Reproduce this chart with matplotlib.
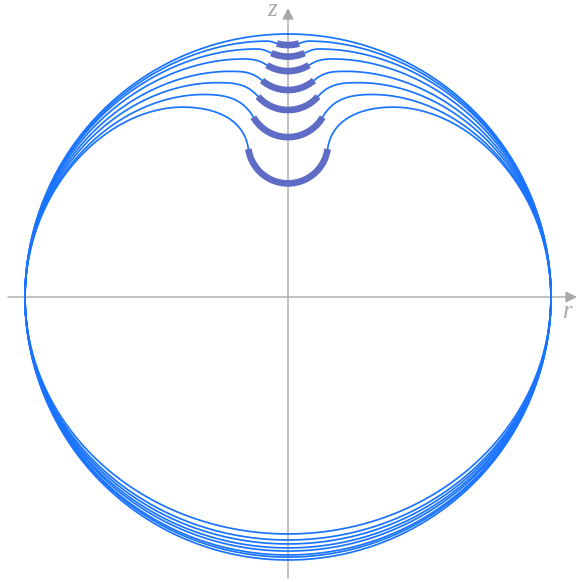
import numpy as np
import matplotlib
matplotlib.use('Agg')
import matplotlib.pyplot as plt

# ---- data (sphere radius = 1) ----
particle_radius = 0.152
wrap_angle_deg = [16, 24.4, 31.7, 40.5, 48.6, 60, 82]          # half-angle of bound arc
arc_bottom_z = [0.958, 0.914, 0.859, 0.787, 0.711, 0.608, 0.432]  # lowest point of bound arc
rim_r = [0.08, 0.12, 0.17, 0.22, 0.27, 0.32, 0.40]             # rim position (r)
rim_z = [0.973, 0.943, 0.905, 0.858, 0.815, 0.770, 0.722]      # rim height (z)
height_ratio = [0.989, 0.981, 0.966, 0.954, 0.939, 0.924, 0.901]  # vertical semi-axis

FREE_COLOR = '#1a74ff'
BOUND_COLOR = '#5f6cc6'
AXIS_COLOR = '#a8a8a8'


def bezier(B0, B1, B2, B3, n=80):
    t = np.linspace(0, 1, n)[:, None]
    return (1 - t) ** 3 * B0 + 3 * (1 - t) ** 2 * t * B1 + 3 * (1 - t) * t ** 2 * B2 + t ** 3 * B3


def shape(theta, zc, xr, zr, e):
    rho = particle_radius
    P = np.array([rho * np.sin(theta), zc - rho * np.cos(theta)])
    tP = np.array([np.cos(theta), np.sin(theta)])
    R = np.array([xr, zr])
    L = np.linalg.norm(R - P)
    neck = bezier(P, P + 0.4 * L * tP, R - 0.4 * L * np.array([1.0, 0.0]), R)
    Zr = zr / e
    rR = np.hypot(xr, Zr)
    phiR = np.arctan2(xr, Zr)
    D = 1 - rR
    S = rR * np.tan(phiR)
    k = S / D
    phi = np.linspace(phiR, np.pi / 2, 300)
    u = phi - phiR
    Lp = np.pi / 2 - phiR
    delta = D * np.exp(-k * u) * (1 - (u / Lp) ** 2)
    r = 1 - delta
    upper = np.column_stack([r * np.sin(phi), e * r * np.cos(phi)])
    phi2 = np.linspace(np.pi / 2, np.pi, 300)
    lower = np.column_stack([np.sin(phi2), e * np.cos(phi2)])
    right = np.vstack([neck, upper[1:], lower[1:]])
    left = right[::-1] * np.array([-1, 1])
    full = np.vstack([right, left[1:]])
    a = np.linspace(-theta, theta, 100)
    arc = np.column_stack([rho * np.sin(a), zc - rho * np.cos(a)])
    return full, arc


fig = plt.figure(figsize=(5.79, 5.82), dpi=100)
ax = fig.add_axes([0, 0, 1, 1])
ax.set_xlim(-288 / 263, 291 / 263)
ax.set_ylim(-285 / 263, 297 / 263)
ax.axis('off')

# axes with arrows
ax.annotate('', xy=(289 / 263, 0), xytext=(-280 / 263, 0),
            arrowprops=dict(arrowstyle='-|>', color=AXIS_COLOR, lw=1.0,
                            mutation_scale=17, shrinkA=0, shrinkB=0))
ax.annotate('', xy=(0, 289 / 263), xytext=(0, -281 / 263),
            arrowprops=dict(arrowstyle='-|>', color=AXIS_COLOR, lw=1.0,
                            mutation_scale=17, shrinkA=0, shrinkB=0))
ax.text(-0.062, 1.090, 'z', fontsize=18, family='Liberation Serif', style='italic',
        color=AXIS_COLOR, ha='center', va='center')
ax.text(1.066, -0.058, 'r', fontsize=18, family='Liberation Serif', style='italic',
        color=AXIS_COLOR, ha='center', va='center')

# undeformed sphere
tt = np.linspace(0, 2 * np.pi, 600)
ax.plot(np.sin(tt), np.cos(tt), color=FREE_COLOR, lw=1.25, zorder=3)

arcs = []
for th, zb, xr, zr, e in zip(wrap_angle_deg, arc_bottom_z, rim_r, rim_z, height_ratio):
    theta = np.radians(th)
    zc = zb + particle_radius
    full, arc = shape(theta, zc, xr, zr, e)
    ax.plot(full[:, 0], full[:, 1], color=FREE_COLOR, lw=1.25, zorder=3)
    arcs.append(arc)

for arc in arcs:
    ax.plot(arc[:, 0], arc[:, 1], color=BOUND_COLOR, lw=4.8, zorder=4,
            solid_capstyle='butt')

fig.savefig('out.png', dpi=100)
